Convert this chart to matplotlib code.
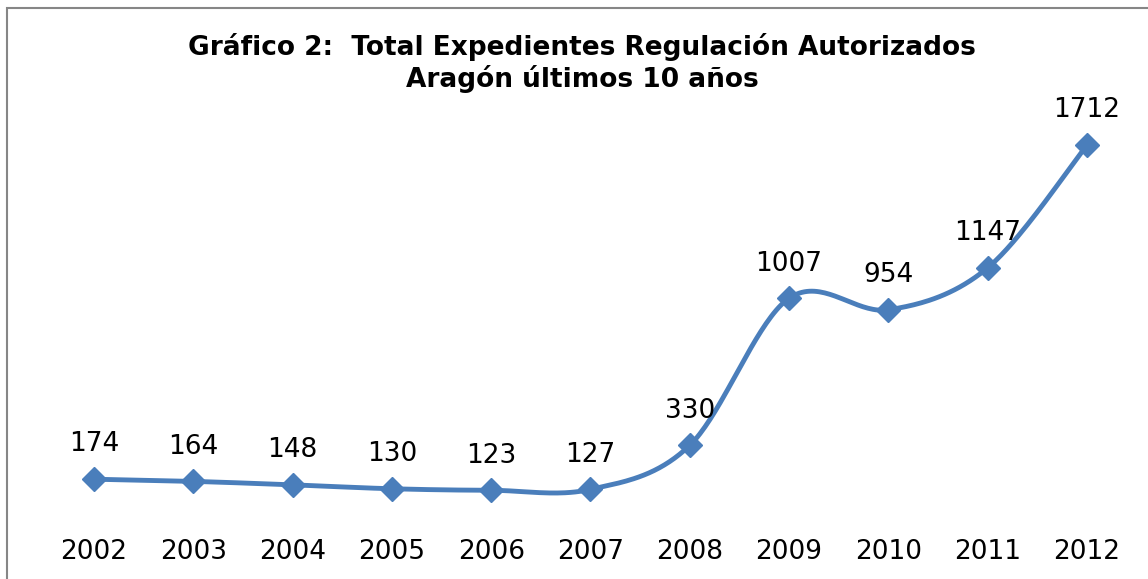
import numpy as np
import matplotlib
matplotlib.use("Agg")
import matplotlib.pyplot as plt
from matplotlib.patches import Rectangle

years = ["2002", "2003", "2004", "2005", "2006", "2007", "2008", "2009", "2010", "2011", "2012"]
values = [174, 164, 148, 130, 123, 127, 330, 1007, 954, 1147, 1712]
title = "Gráfico 2:  Total Expedientes Regulación Autorizados\nAragón últimos 10 años"

color = "#4A7EBB"

def catmull_rom(x, y, n=40):
    x = np.asarray(x, float); y = np.asarray(y, float)
    px = np.concatenate([[x[0]], x, [x[-1]]])
    py = np.concatenate([[y[0]], y, [y[-1]]])
    xs, ys = [], []
    t = np.linspace(0, 1, n)
    for i in range(1, len(px) - 2):
        p0 = np.array([px[i - 1], py[i - 1]]); p1 = np.array([px[i], py[i]])
        p2 = np.array([px[i + 1], py[i + 1]]); p3 = np.array([px[i + 2], py[i + 2]])
        c1 = p1 + (p2 - p0) / 6.0
        c2 = p2 - (p3 - p1) / 6.0
        b = ((1 - t) ** 3)[:, None] * p1 + (3 * (1 - t) ** 2 * t)[:, None] * c1 + \
            (3 * (1 - t) * t ** 2)[:, None] * c2 + (t ** 3)[:, None] * p2
        xs.append(b[:, 0]); ys.append(b[:, 1])
    return np.concatenate(xs), np.concatenate(ys)

W, H = 1148, 579
fig = plt.figure(figsize=(W / 100, H / 100), dpi=100)
fig.patch.set_facecolor("white")

# chart border
fig.patches.append(Rectangle((7 / W, -0.1), 1.2, (H - 8) / H + 0.1, transform=fig.transFigure,
                             fill=False, edgecolor="#868686", linewidth=1.5))

ax = fig.add_axes([44.35 / W, (H - 517) / H, (1136.6 - 44.35) / W, (517 - 126) / H])
ax.set_facecolor("none")
x = np.arange(len(years))
sx, sy = catmull_rom(x, values)
ax.plot(sx, sy, color=color, linewidth=3.5, solid_capstyle="round", zorder=2)
ax.plot(x, values, linestyle="none", marker="D", markersize=12, color=color, zorder=3)
for xi, v in zip(x, values):
    ax.annotate(str(v), (xi, v), xytext=(0, 25), textcoords="offset points",
                ha="center", va="center", fontsize=19, family="DejaVu Sans", color="black")

ax.set_xlim(-0.5, len(years) - 0.5)
ax.set_ylim(0, 1800)
ax.set_xticks(x)
ax.set_xticklabels(years, fontsize=19, family="DejaVu Sans")
ax.tick_params(axis="x", length=0, pad=16)
ax.set_yticks([])
for s in ax.spines.values():
    s.set_visible(False)

fig.text(582 / W, 1 - 63 / H, title, ha="center", va="center", fontsize=19,
         fontweight="bold", family="DejaVu Sans", linespacing=1.2)

fig.savefig("out.png", dpi=100)
